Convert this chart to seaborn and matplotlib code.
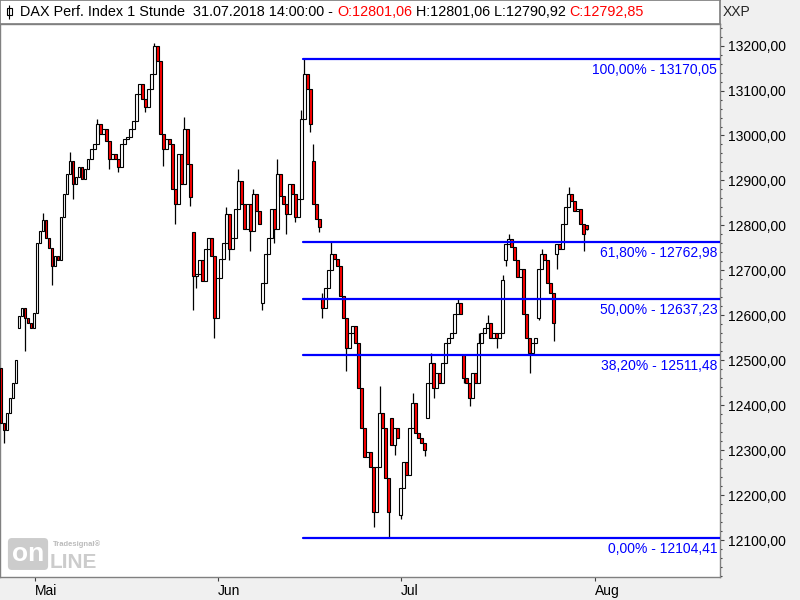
import numpy as np
import pandas as pd
import seaborn as sns
import matplotlib.pyplot as plt
import matplotlib.ticker as ticker
from matplotlib.patches import Rectangle

# hourly closes (one bar every ~3 px)
closes = [
    12361, 12346, 12383, 12416, 12450, 12501, 12598, 12616, 12594, 12583, 12571, 12605,
    12760, 12788, 12811, 12771, 12749, 12709, 12731, 12722, 12819, 12870, 12915, 12943,
    12892, 12908, 12930, 12903, 12926, 12948, 12970, 12981, 13025, 13003, 13014, 12988,
    12948, 12959, 12948, 12930, 12981, 12992, 12996, 13014, 13032, 13092, 13114, 13081,
    13063, 13103, 13136, 13198, 13165, 13003, 12970, 12992, 12981, 12881, 12848, 12959,
    12892, 13014, 12937, 12864, 12687, 12693, 12722, 12677, 12748, 12771, 12731, 12594,
    12682, 12726, 12760, 12826, 12748, 12771, 12837, 12899, 12848, 12793, 12848, 12788,
    12870, 12833, 12804, 12671, 12737, 12771, 12837, 12793, 12915, 12866, 12848, 12826,
    12892, 12870, 12819, 12859, 13036, 13136, 13103, 13025, 12848, 12815, 12797, 12616,
    12660, 12700, 12737, 12726, 12709, 12642, 12594, 12527, 12560, 12576, 12538, 12439,
    12350, 12284, 12295, 12262, 12162, 12262, 12383, 12350, 12239, 12162, 12312, 12350,
    12328, 12217, 12273, 12244, 12350, 12405, 12339, 12328, 12317, 12301, 12450, 12494,
    12439, 12472, 12450, 12494, 12538, 12549, 12560, 12604, 12627, 12604, 12461, 12450,
    12417, 12472, 12450, 12538, 12560, 12571, 12583, 12549, 12560, 12549, 12560, 12678,
    12759, 12770, 12753, 12722, 12686, 12704, 12604, 12549, 12516, 12538, 12549, 12704,
    12737, 12722, 12671, 12649, 12583, 12759, 12748, 12804, 12841, 12870, 12855, 12833,
    12837, 12804, 12782, 12792.85,
]

# opens after overnight gaps (other bars open at the previous close)
gap_opens = {0: 12483, 6: 12571, 64: 12786, 87: 12627, 104: 12943, 107: 12638,
             130: 12372, 133: 12155, 142: 12372, 154: 12512, 168: 12722,
             179: 12594, 185: 12737, 195: 12801.06}

# visible wicks
high_marks = {14: 12828, 23: 12963, 32: 13036, 51: 13206, 61: 13041, 75: 12841,
              79: 12926, 84: 12881, 92: 12948, 100: 13056, 101: 13170.05, 104: 12981,
              107: 12649, 110: 12764, 126: 12443, 137: 12428, 143: 12516, 152: 12638,
              159: 12560, 162: 12600, 167: 12689, 169: 12782, 180: 12748, 189: 12886,
              195: 12801.06}
low_marks = {1: 12317, 8: 12520, 17: 12667, 24: 12859, 36: 12926, 39: 12919,
             48: 13052, 54: 12932, 58: 12804, 63: 12844, 64: 12611, 65: 12660,
             71: 12549, 76: 12722, 83: 12742, 87: 12611, 91: 12760, 95: 12782,
             98: 12808, 103: 13007, 106: 12786, 107: 12594, 115: 12476, 124: 12129,
             129: 12104.41, 131: 12290, 133: 12146, 141: 12288, 144: 12416, 154: 12450,
             156: 12399, 165: 12527, 168: 12709, 176: 12472, 179: 12589, 184: 12543,
             185: 12704, 194: 12742, 195: 12790.92}

fib_ratios = [1.0, 0.618, 0.5, 0.382, 0.0]
fib_names = ["100,00%", "61,80%", "50,00%", "38,20%", "0,00%"]
fib_high_bar = 101
fib_low_bar = 129

month_names = ["Mai", "Jun", "Jul", "Aug"]
month_bars = [11.3, 72.3, 133.0, 197.7]

title_parts = [
    ("DAX Perf. Index 1 Stunde  31.07.2018 14:00:00 - ", "black"),
    ("O:12801,06", "#ff0000"),
    (" H:12801,06 L:12790,92 ", "black"),
    ("C:12792,85", "#ff0000"),
]


def de(v):
    return f"{v:.2f}".replace(".", ",")


opens = [gap_opens.get(i, closes[i - 1] if i else c) for i, c in enumerate(closes)]
highs = [max(high_marks.get(i, 0), o, c) for i, (o, c) in enumerate(zip(opens, closes))]
lows = [min(low_marks.get(i, 1e9), o, c) for i, (o, c) in enumerate(zip(opens, closes))]

df = pd.DataFrame({"bar": range(len(closes)), "open": opens, "high": highs,
                   "low": lows, "close": closes})
df["up"] = df["close"] >= df["open"]

sns.set_theme(style="white")
plt.rcParams["font.family"] = ["Liberation Sans", "DejaVu Sans"]

fig = plt.figure(figsize=(8, 6), dpi=100, facecolor="#f0f0f0")
ax = fig.add_axes([0, 23 / 600, 720 / 800, 553 / 600])
ax.set_facecolor("white")

# candles
ax.vlines(df["bar"], df["low"], df["high"], color="black", lw=0.9, zorder=2)
body_lo = df[["open", "close"]].min(axis=1)
body_h = (df["close"] - df["open"]).abs().clip(lower=1.5)
ax.bar(df["bar"], body_h, bottom=body_lo, width=0.92,
       color=np.where(df["up"], "white", "#ff0000"),
       edgecolor="black", linewidth=0.8, zorder=3)

# fibonacci retracement
xmax = 239.33
hi = df["high"][fib_high_bar]
lo = df["low"][fib_low_bar]
levels = [lo + r * (hi - lo) for r in fib_ratios]
fib_df = pd.DataFrame({
    "level": np.repeat(fib_names, 2),
    "x": [fib_high_bar - 0.4, xmax] * len(levels),
    "price": np.repeat(levels, 2),
})
sns.lineplot(data=fib_df, x="x", y="price", units="level", estimator=None,
             color="#0000ff", lw=1.6, ax=ax, zorder=4)
for name, lv in zip(fib_names, levels):
    ax.annotate(f"{name} - {de(lv)}", xy=(1, lv), xycoords=("axes fraction", "data"),
                xytext=(-2, -3), textcoords="offset points", ha="right", va="top",
                color="#0000ff", fontsize=10)

ax.set_xlabel("")
ax.set_ylabel("")
ax.set_xlim(-0.33, xmax)
ax.set_ylim(12018, 13248)

ax.yaxis.tick_right()
ax.yaxis.set_major_locator(ticker.MultipleLocator(100))
ax.yaxis.set_minor_locator(ticker.MultipleLocator(20))
ax.yaxis.set_major_formatter(ticker.FuncFormatter(lambda v, p: de(v)))
ax.tick_params(axis="y", which="major", right=True, left=False, direction="out",
               length=3, width=0.8, color="#404040", labelsize=10, pad=2.5,
               labelcolor="black")
ax.tick_params(axis="y", which="minor", right=True, left=False, direction="out",
               length=1.5, width=0.8, color="#404040")

ax.set_xticks(month_bars, month_names)
for lbl in ax.get_xticklabels():
    lbl.set_ha("left")
ax.tick_params(axis="x", bottom=True, direction="out", length=3, width=0.8,
               color="#404040", labelsize=10, pad=2, labelcolor="black")
for s in ax.spines.values():
    s.set_color("#808080")
    s.set_linewidth(1)

# title bar
tax = fig.add_axes([0, 1 - 24 / 600, 720 / 800, 24 / 600])
tax.set_facecolor("white")
tax.set_xlim(0, 720)
tax.set_ylim(24, 0)
tax.set_xticks([])
tax.set_yticks([])
for s in tax.spines.values():
    s.set_color("#808080")
tax.vlines(9, 5, 19, color="black", lw=0.8)
tax.add_patch(Rectangle((6.5, 8), 5, 7, fc="white", ec="black", lw=0.8))

prev = tax.text(20, 12.5, title_parts[0][0], va="center", ha="left",
                color=title_parts[0][1], fontsize=10.4)
for txt, col in title_parts[1:]:
    prev = tax.annotate(txt, xy=(1, 0), xycoords=prev, va="bottom", ha="left",
                        color=col, fontsize=10.4)

fig.text(723 / 800, 1 - 12 / 600, "XXP", va="center", ha="left", fontsize=10)

# watermark logo
fig.text(28 / 800, 1 - 554 / 600, "on", color="white", fontsize=19, weight="bold",
         ha="center", va="center",
         bbox=dict(boxstyle="round,pad=0.15", fc="#cccccc", ec="none"))
fig.text(50 / 800, 1 - 568 / 600, "LINE", color="#cccccc", fontsize=15, weight="bold",
         ha="left", va="baseline")
fig.text(53 / 800, 1 - 548 / 600, "Tradesignal\u00ae", color="#bbbbbb", fontsize=5.5,
         weight="bold", ha="left", va="bottom")

fig.savefig("out.png", dpi=100, facecolor=fig.get_facecolor())
